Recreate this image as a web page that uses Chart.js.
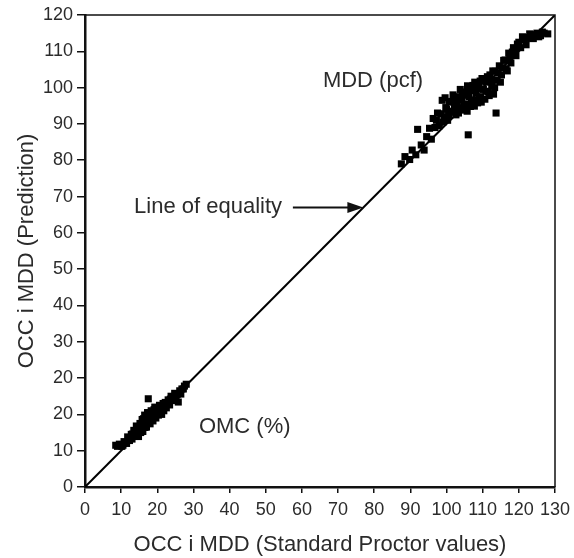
<!DOCTYPE html>
<html>
<head>
<meta charset="utf-8">
<script src="https://cdn.jsdelivr.net/npm/chart.js@4.4.1/dist/chart.umd.min.js"></script>
<style>
  html, body { margin: 0; padding: 0; background: #fff; }
  #wrap { width: 574px; height: 558px; }
</style>
</head>
<body>
<div id="wrap"><canvas id="c"></canvas></div>
<script>
// Tick labels as printed in the figure (note the repeated "20" on the y axis)
const xTickLabels = ['0','10','20','30','40','50','60','70','80','90','100','110','120','130'];
const yTickLabels = ['0','10','20','20','30','40','50','60','70','80','90','100','110','120'];

// OMC (%) cluster, read in axis position units
const omcX = [8.5, 9.0, 9.5, 10.2, 10.5, 10.8, 11.5, 11.8, 12.0, 12.3, 12.6, 12.8, 13.0, 13.2, 13.5, 13.8, 13.9,
  14.2, 14.3, 14.5, 14.8, 14.9, 15.2, 15.4, 15.5, 15.8, 15.9, 16.0, 16.2, 16.3, 16.5, 16.6, 16.8, 17.0, 17.1,
  17.3, 17.5, 17.6, 17.8, 18.0, 18.1, 18.3, 18.5, 18.6, 18.8, 19.0, 19.1, 19.3, 19.4, 19.6, 19.9, 20.0, 20.3,
  20.4, 20.6, 20.9, 21.0, 21.2, 21.4, 21.6, 21.8, 22.0, 22.2, 22.5, 22.8, 23.0, 23.4, 23.6, 23.8, 24.3, 24.6,
  24.8, 25.2, 25.5, 25.8, 26.2, 26.5, 26.8, 27.2, 27.5, 28.0];
const omcY = [11.5, 11.2, 11.8, 11.2, 11.5, 12.5, 12.0, 13.8, 13.0, 12.8, 13.6, 14.5, 13.2, 14.6, 15.6, 14.2, 15.4,
  16.8, 14.0, 15.0, 13.9, 16.2, 17.5, 15.0, 16.0, 18.6, 17.0, 15.3, 18.8, 17.2, 19.8, 16.4, 18.0, 16.5, 18.4,
  20.5, 24.3, 17.6, 18.8, 17.4, 19.6, 21.0, 19.5, 18.8, 18.2, 20.3, 21.3, 22.0, 19.6, 19.0, 20.4, 21.2, 19.8,
  21.6, 22.5, 21.4, 20.5, 20.0, 22.0, 23.0, 21.0, 22.0, 23.3, 21.8, 22.8, 24.0, 22.6, 24.2, 25.0, 23.8, 24.6,
  25.8, 24.6, 25.5, 23.4, 26.5, 25.6, 27.0, 27.0, 27.8, 28.3];

// MDD (pcf) cluster
const mddX = [87.5, 88.5, 89.8, 90.5, 91.5, 92.0, 93.0, 93.8, 94.5, 95.3, 95.8, 96.3, 96.8, 97.2, 97.5, 98.0, 98.4,
  98.8, 99.0, 99.3, 99.6, 99.8, 100.0, 100.3, 100.6, 100.8, 101.2, 101.4, 101.8, 101.9, 102.2, 102.4, 102.6,
  102.9, 103.0, 103.3, 103.4, 103.8, 103.9, 104.2, 104.4, 104.6, 104.9, 105.0, 105.3, 105.4, 105.7, 105.8, 106.0,
  106.2, 106.4, 106.6, 106.9, 107.0, 107.3, 107.4, 107.7, 107.8, 108.2, 108.4, 108.6, 108.9, 109.0, 109.3, 109.4,
  109.6, 109.8, 110.2, 110.4, 110.6, 110.9, 111.0, 111.3, 111.5, 111.8, 112.0, 112.3, 112.5, 112.8, 113.0, 113.3,
  113.7, 113.5, 114.0, 114.3, 114.6, 114.9, 115.2, 115.5, 115.8, 116.2, 116.5, 116.8, 117.2, 117.5, 117.8, 118.2,
  118.5, 119.0, 119.2, 119.6, 120.0, 120.5, 121.0, 121.5, 122.0, 122.5, 123.0, 124.0, 124.5, 125.0, 125.5, 126.0,
  126.5, 127.0, 128.0];
const mddY = [89.0, 91.0, 90.2, 92.8, 91.5, 98.5, 94.2, 92.8, 96.5, 98.8, 95.8, 101.5, 99.0, 101.0, 103.0, 99.5, 102.8,
  106.5, 100.5, 102.0, 107.2, 104.5, 104.0, 101.0, 102.5, 106.0, 103.5, 106.2, 108.0, 103.2, 105.0, 107.3, 102.5,
  105.8, 107.5, 103.0, 104.5, 109.5, 107.0, 106.5, 108.3, 103.8, 105.3, 108.8, 107.9, 105.5, 103.5, 110.5, 97.0,
  107.5, 109.2, 104.8, 106.0, 109.5, 110.6, 106.5, 104.9, 111.5, 108.5, 110.0, 105.8, 107.0, 110.5, 111.8, 107.5,
  106.0, 112.5, 109.5, 112.0, 106.8, 109.0, 111.5, 113.0, 108.8, 107.8, 113.5, 111.8, 110.5, 114.6, 108.2, 110.0,
  103.0, 114.5, 112.0, 114.0, 116.0, 111.5, 113.5, 115.5, 117.5, 117.6, 115.2, 114.6, 119.5, 118.2, 116.8, 119.8,
  121.0, 120.5, 118.8, 122.0, 122.5, 121.0, 124.0, 123.2, 121.8, 123.8, 124.8, 123.5, 124.6, 125.0, 124.0, 124.3,
  125.3, 125.0, 124.8];

// Line of equality end points
const eqX = [0, 130];
const eqY = [0, 130];

const pts = (xs, ys) => xs.map((x, i) => ({ x: x, y: ys[i] }));

const FONT = '"Liberation Sans", Arial, Helvetica, sans-serif';
const INK = '#2b2b2b';

// Top/right frame lines
const framePlugin = {
    id: 'frame',
    afterDraw(chart) {
        const { ctx, chartArea: a } = chart;
        ctx.save();
        ctx.strokeStyle = '#111';
        ctx.lineWidth = 1.5;
        ctx.beginPath();
        ctx.moveTo(a.left, a.top);
        ctx.lineTo(a.right, a.top);
        ctx.lineTo(a.right, a.bottom);
        ctx.stroke();
        ctx.restore();
    }
};

// Text labels + arrow, placed in data units
const notesPlugin = {
    id: 'notes',
    afterDatasetsDraw(chart) {
        const { ctx, scales: { x, y } } = chart;
        ctx.save();
        ctx.fillStyle = INK;
        ctx.font = '22px ' + FONT;
        ctx.textBaseline = 'middle';

        ctx.textAlign = 'left';
        ctx.fillText('MDD (pcf)', x.getPixelForValue(65.8), y.getPixelForValue(111.8));
        ctx.fillText('OMC (%)', x.getPixelForValue(31.5), y.getPixelForValue(16.6));
        ctx.textAlign = 'right';
        ctx.fillText('Line of equality', x.getPixelForValue(54.5), y.getPixelForValue(77));

        // arrow to the line
        const x0 = x.getPixelForValue(57.5), x1 = x.getPixelForValue(77), yy = y.getPixelForValue(77);
        ctx.strokeStyle = '#111';
        ctx.fillStyle = '#111';
        ctx.lineWidth = 2;
        ctx.beginPath();
        ctx.moveTo(x0, yy);
        ctx.lineTo(x1 - 14, yy);
        ctx.stroke();
        ctx.beginPath();
        ctx.moveTo(x1, yy);
        ctx.lineTo(x1 - 16, yy - 5.5);
        ctx.lineTo(x1 - 16, yy + 5.5);
        ctx.closePath();
        ctx.fill();
        ctx.restore();
    }
};

new Chart(document.getElementById('c'), {
    type: 'scatter',
    data: {
        datasets: [
            {
                label: 'OMC (%)',
                data: pts(omcX, omcY),
                pointStyle: 'rect',
                pointRadius: 5,
                backgroundColor: '#000',
                borderWidth: 0
            },
            {
                label: 'MDD (pcf)',
                data: pts(mddX, mddY),
                pointStyle: 'rect',
                pointRadius: 5,
                backgroundColor: '#000',
                borderWidth: 0
            },
            {
                label: 'Line of equality',
                data: pts(eqX, eqY),
                showLine: true,
                pointRadius: 0,
                borderColor: '#000',
                borderWidth: 2
            }
        ]
    },
    options: {
        responsive: true,
        maintainAspectRatio: false,
        animation: false,
        devicePixelRatio: 1,
        layout: { padding: { top: 15, right: 19, left: 0, bottom: 0 } },
        plugins: { legend: { display: false }, tooltip: { enabled: false } },
        scales: {
            x: {
                type: 'linear',
                min: 0, max: 130,
                afterBuildTicks: s => { s.ticks = xTickLabels.map((t, i) => ({ value: i * 10 })); },
                afterFit: s => { s.height = 71; s.paddingLeft = 0; s.paddingRight = 0; },
                border: { display: true, color: '#111', width: 2.5 },
                grid: { drawOnChartArea: false, drawTicks: true, tickLength: 6, color: '#111', lineWidth: 1.5 },
                ticks: {
                    autoSkip: false, maxRotation: 0, padding: 6,
                    color: INK, font: { family: FONT, size: 18 },
                    callback: (v, i) => xTickLabels[i]
                },
                title: {
                    display: true,
                    text: 'OCC i MDD (Standard Proctor values)',
                    color: INK, font: { family: FONT, size: 22 },
                    padding: { top: 0, bottom: 0 }
                }
            },
            y: {
                type: 'linear',
                min: 0, max: 130,
                afterBuildTicks: s => { s.ticks = yTickLabels.map((t, i) => ({ value: i * 10 })); },
                afterFit: s => { s.width = 85; s.paddingTop = 0; s.paddingBottom = 0; },
                border: { display: true, color: '#111', width: 2.5 },
                grid: { drawOnChartArea: false, drawTicks: true, tickLength: 8, color: '#111', lineWidth: 1.5 },
                ticks: {
                    autoSkip: false, padding: 4,
                    color: INK, font: { family: FONT, size: 18 },
                    callback: (v, i) => yTickLabels[i]
                },
                title: {
                    display: true,
                    text: 'OCC i MDD (Prediction)',
                    color: INK, font: { family: FONT, size: 22 },
                    padding: { top: 14, bottom: 0 }
                }
            }
        }
    },
    plugins: [framePlugin, notesPlugin]
});
</script>
</body>
</html>
